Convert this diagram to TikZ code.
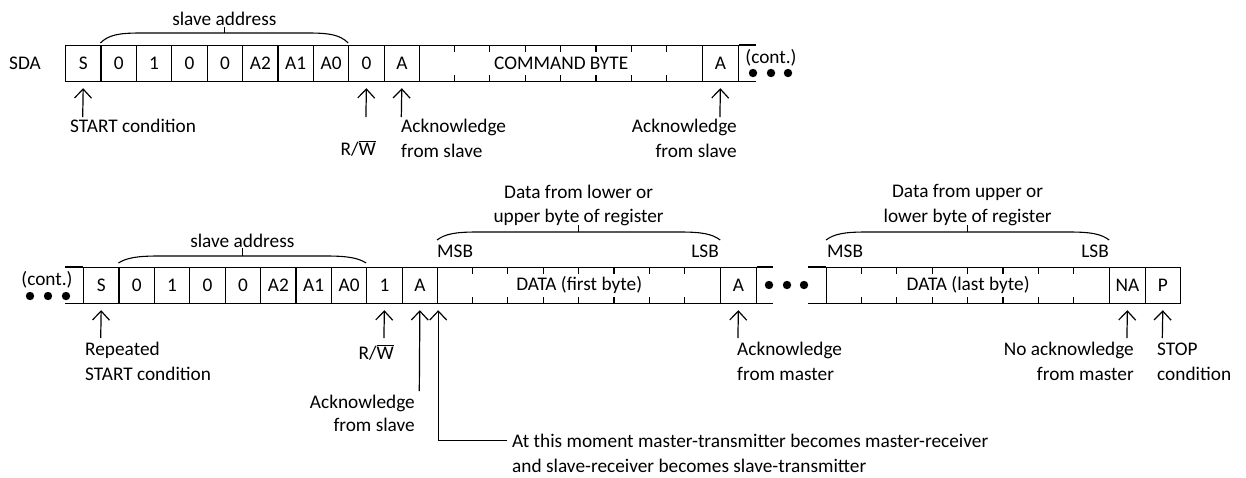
\documentclass[tikz,border=0pt]{standalone}
\usepackage{fontspec}
\setmainfont{Carlito}
\usetikzlibrary{arrows.meta,calc}
\newcommand\myfont{\fontsize{19.3}{24}\selectfont}
\newcommand\ovbar[1]{\ensuremath{\overline{\mbox{#1}}}}
\newcommand\mybrace[5]{%
  \draw[brc] (#1,#3) .. controls ({#1+8},{#4+2}) and ({#1+18},#4) .. ({#1+40},#4) -- ({#2-40},#4) .. controls ({#2-18},#4) and ({#2-8},{#4+2}) .. (#2,#3);
  \draw[brc] ({(#1+#2)/2},#4) -- ({(#1+#2)/2},#5);}
\tikzset{
  cell/.style={draw, line width=1.2pt, minimum width=35.4pt, minimum height=35.5pt, inner sep=0pt, anchor=north west},
  bytebox/.style={cell, minimum width=283.2pt},
  lbl/.style={inner sep=0pt},
  ln/.style={line width=1.2pt},
  brc/.style={line width=1.1pt},
  arr/.style={line width=1.2pt, -{Straight Barb[length=9pt,width=17pt,line width=1.2pt]}, shorten >=6.5pt},
  dot/.style={fill=black, draw=none},
}
\begin{document}
\begin{tikzpicture}[x=1pt,y=-1pt, every node/.append style={font=\myfont}]
\useasboundingbox (0,0) rectangle (1246,477);
% ---------- top row ----------
\node[lbl] (sda) at (25,63) {SDA};
\node[cell] (tS) at (65,45) {S};
\node[cell] (t1) at (100.4,45) {0};
\node[cell] (t2) at (135.8,45) {1};
\node[cell] (t3) at (171.2,45) {0};
\node[cell] (t4) at (206.6,45) {0};
\node[cell] (t5) at (242.0,45) {A2};
\node[cell] (t6) at (277.4,45) {A1};
\node[cell] (t7) at (312.8,45) {A0};
\node[cell] (tRW) at (348.2,45) {0};
\node[cell] (tA) at (383.6,45) {A};
\node[bytebox] (tCmd) at (419.0,45) {COMMAND BYTE};
\node[cell] (tA2) at (702.2,45) {A};
\draw[ln] (tA2.north east) -- ++(17.4,0);
\draw[ln] (tA2.south east) -- ++(17.4,0);
\foreach \i in {1,...,7}{
  \draw[ln] ($(tCmd.north west)+(\i*35.4,0)$) -- ++(0,7);
  \draw[ln] ($(tCmd.south west)+(\i*35.4,0)$) -- ++(0,-7);
}
\node[lbl] (tcont) at (771,58) {(cont.)};
\foreach \x in {753,771,788} \fill[dot] (\x,73) circle (4.2);
\mybrace{100.4}{348.2}{43}{33}{27}
\node[lbl] (tsa) at (224.3,19) {slave address};
% arrows and labels
\coordinate (taS) at (82.7,117);
\coordinate (taRW) at (365.9,117);
\coordinate (taA) at (401.3,117);
\coordinate (taA2) at (719.9,117);
\draw[arr] (taS) -- (tS.south);
\draw[arr] (taRW) -- (tRW.south);
\draw[arr] (taA) -- (tA.south);
\draw[arr] (taA2) -- (tA2.south);
\node[lbl, anchor=mid west] (tstart) at (70,130) {START condition};
\node[lbl, anchor=mid east] (trw) at (376,153) {R/\ovbar{W}};
\node[lbl, anchor=mid west] (tack1a) at (401,130) {Acknowledge};
\node[lbl, anchor=mid west] (tack1b) at (401,155) {from slave};
\node[lbl, anchor=mid east] (tack2a) at (737,130) {Acknowledge};
\node[lbl, anchor=mid east] (tack2b) at (737,155) {from slave};
% ---------- bottom row ----------
\node[lbl] (bcont) at (47,280) {(cont.)};
\foreach \x in {30,48,66} \fill[dot] (\x,296) circle (4.2);
\node[cell] (bS) at (83,267) {S};
\node[cell] (b1) at (118.4,267) {0};
\node[cell] (b2) at (153.8,267) {1};
\node[cell] (b3) at (189.2,267) {0};
\node[cell] (b4) at (224.6,267) {0};
\node[cell] (b5) at (260.0,267) {A2};
\node[cell] (b6) at (295.4,267) {A1};
\node[cell] (b7) at (330.8,267) {A0};
\node[cell] (bRW) at (366.2,267) {1};
\node[cell] (bA) at (401.6,267) {A};
\node[bytebox] (bD1) at (437.0,267) {DATA (first byte)};
\node[cell] (bA2) at (720.2,267) {A};
\draw[ln] (bS.north west) -- ++(-18,0);
\draw[ln] (bS.south west) -- ++(-18,0);
\draw[ln] (bA2.north east) -- ++(16.4,0);
\draw[ln] (bA2.south east) -- ++(16.4,0);
\foreach \x in {769,787,804} \fill[dot] (\x,285) circle (4.2);
\node[bytebox] (bD2) at (826.0,267) {DATA (last byte)};
\node[cell] (bNA) at (1109.2,267) {NA};
\node[cell] (bP) at (1144.6,267) {P};
\draw[ln] (bD2.north west) -- ++(-18,0);
\draw[ln] (bD2.south west) -- ++(-18,0);
\foreach \i in {1,...,7}{
  \draw[ln] ($(bD1.north west)+(\i*35.4,0)$) -- ++(0,7);
  \draw[ln] ($(bD1.south west)+(\i*35.4,0)$) -- ++(0,-7);
  \draw[ln] ($(bD2.north west)+(\i*35.4,0)$) -- ++(0,7);
  \draw[ln] ($(bD2.south west)+(\i*35.4,0)$) -- ++(0,-7);
}
% braces and labels above
\mybrace{118.4}{366.2}{263}{256}{248}
\node[lbl] (bsa) at (242.3,241) {slave address};
\mybrace{437}{720.2}{240}{232}{225}
\node[lbl] (d1a) at (578.6,192) {Data from lower or};
\node[lbl] (d1b) at (578.6,217) {upper byte of register};
\node[lbl, anchor=mid west] (msb1) at (437,255) {MSB};
\node[lbl, anchor=mid east] (lsb1) at (719,255) {LSB};
\mybrace{826}{1109.2}{240}{232}{225}
\node[lbl] (d2a) at (967.6,192) {Data from upper or};
\node[lbl] (d2b) at (967.6,217) {lower byte of register};
\node[lbl, anchor=mid west] (msb2) at (827,255) {MSB};
\node[lbl, anchor=mid east] (lsb2) at (1109,255) {LSB};
% arrows
\coordinate (baS) at (100.7,338);
\coordinate (baRW) at (383.9,338);
\coordinate (baA) at (419.3,391);
\coordinate (baA2) at (737.9,338);
\coordinate (baNA) at (1126.9,338);
\coordinate (baP) at (1162.3,338);
\draw[arr] (baS) -- (bS.south);
\draw[arr] (baRW) -- (bRW.south);
\draw[arr] (baA) -- (bA.south);
\draw[arr] (baA2) -- (bA2.south);
\draw[arr] (baNA) -- (bNA.south);
\draw[arr] (baP) -- (bP.south);
\node[lbl, anchor=mid west] (brep1) at (85,353) {Repeated};
\node[lbl, anchor=mid west] (brep2) at (85,378) {START condition};
\node[lbl, anchor=mid east] (brw) at (394,357) {R/\ovbar{W}};
\node[lbl, anchor=mid east] (back1a) at (415,406) {Acknowledge};
\node[lbl, anchor=mid east] (back1b) at (415,429) {from slave};
\node[lbl, anchor=mid west] (mom1) at (512,445) {At this moment master-transmitter becomes master-receiver};
\node[lbl, anchor=mid west] (mom2) at (512,470) {and slave-receiver becomes slave-transmitter};
\draw[arr] ([xshift=-5pt]mom1.west) -| (bA.south east);
\node[lbl, anchor=mid west] (bam1) at (737,353) {Acknowledge};
\node[lbl, anchor=mid west] (bam2) at (737,378) {from master};
\node[lbl, anchor=mid east] (bna1) at (1134,353) {No acknowledge};
\node[lbl, anchor=mid east] (bna2) at (1134,378) {from master};
\node[lbl, anchor=mid west] (bstop1) at (1157,353) {STOP};
\node[lbl, anchor=mid west] (bstop2) at (1157,378) {condition};
\end{tikzpicture}
\end{document}
